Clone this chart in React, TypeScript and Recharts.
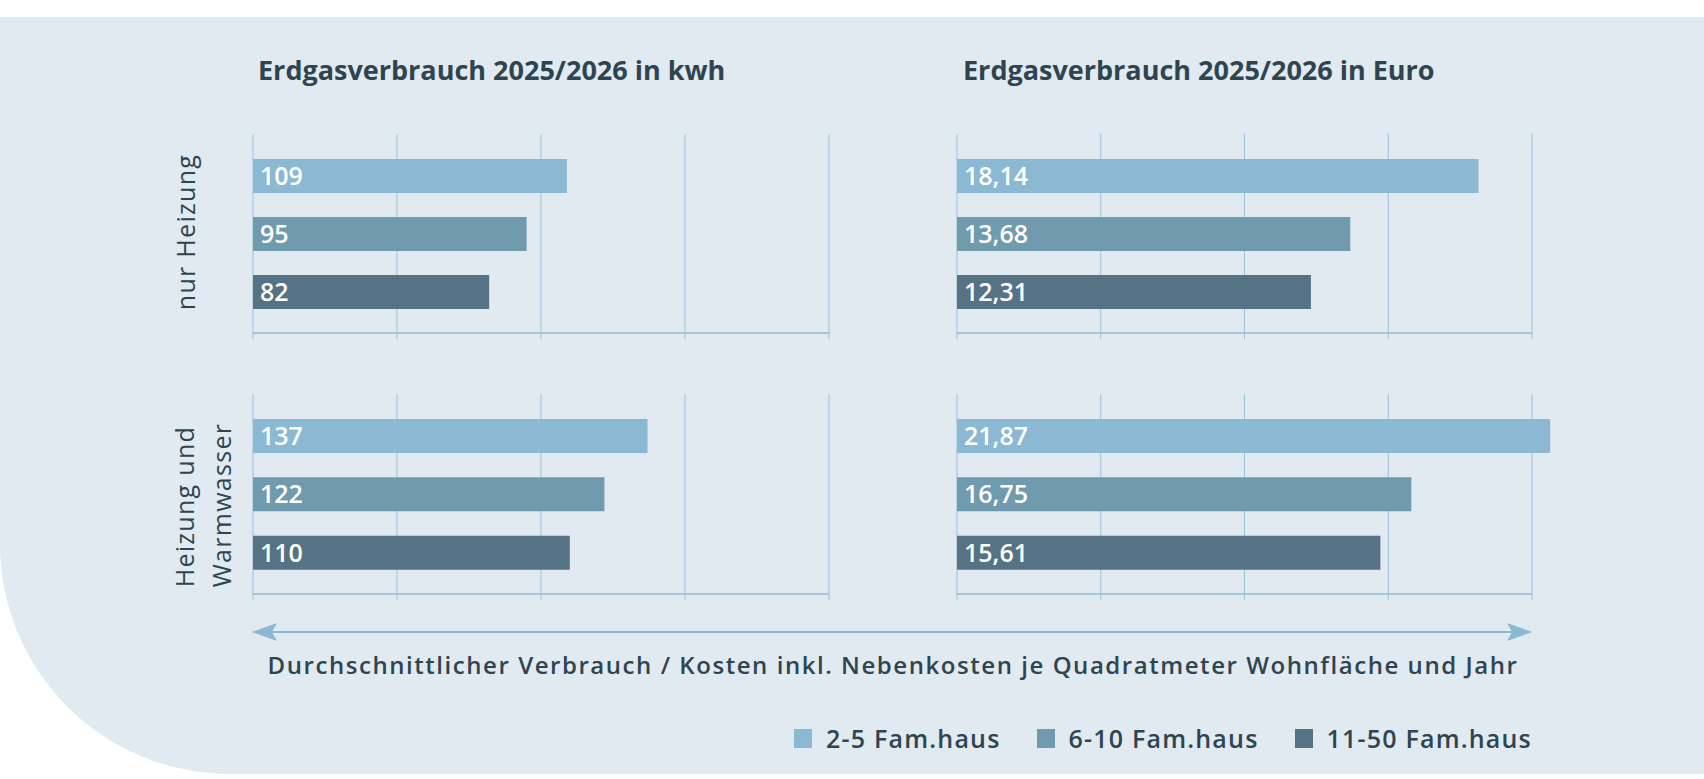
import { BarChart, Bar, Cell, XAxis, YAxis, CartesianGrid, LabelList } from "recharts";

// Haustypen und Farben
const houseTypes = ["2-5 Fam.haus", "6-10 Fam.haus", "11-50 Fam.haus"];
const houseColors = ["#8bb9d3", "#709aad", "#557384"];

// Werte je Quadratmeter Wohnfläche und Jahr
const kwhHeating = [109, 95, 82];
const kwhHeatingWater = [137, 122, 110];
const euroHeating = [18.14, 13.68, 12.31];
const euroHeatingWater = [21.87, 16.75, 15.61];

// Gitterlinien (ohne Beschriftung)
const kwhTicks = [0, 50, 100, 150, 200];
const euroTicksTop = [0, 5, 10, 15, 20];
const euroTicksBottom = [0, 5.3, 10.6, 15.9, 21.2];

const rowLabels = ["nur Heizung", "Heizung und\nWarmwasser"];
const titles = ["Erdgasverbrauch 2025/2026 in kwh", "Erdgasverbrauch 2025/2026 in Euro"];
const caption =
  "Durchschnittlicher Verbrauch / Kosten inkl. Nebenkosten je Quadratmeter Wohnfläche und Jahr";

const FONT = "'Open Sans', 'Noto Sans', sans-serif";
const TEXT = "#2e4551";
const GRID = "#98c2d6";
const AXIS = "#a3c8da";

const fmtInt = (v: number) => String(v);
const fmtEuro = (v: number) => v.toFixed(2).replace(".", ",");

// leere Tick-Beschriftung, damit Ticklinien und Gitter bleiben
const NoTick = () => <g />;

type PanelProps = {
  values: number[];
  ticks: number[];
  left: number;
  top: number;
  plotWidth: number;
  plotHeight: number;
  formatter: (v: number) => string;
  extraRight?: number;
  className?: string;
};

function Panel({
  values,
  ticks,
  left,
  top,
  plotWidth,
  plotHeight,
  formatter,
  extraRight = 2,
  className,
}: PanelProps) {
  const data = houseTypes.map((name, i) => ({ name, value: values[i] }));
  const max = ticks[ticks.length - 1];
  return (
    <div className={className} style={{ position: "absolute", left: left - 2, top }}>
      <BarChart
        width={plotWidth + 2 + extraRight}
        height={plotHeight + 6}
        data={data}
        layout="vertical"
        margin={{ top: 0, right: extraRight, bottom: 0, left: 2 }}
        barSize={34}
      >
        <CartesianGrid horizontal={false} stroke={GRID} />
        <XAxis
          type="number"
          domain={[0, max]}
          ticks={ticks}
          interval={0}
          allowDataOverflow
          tick={NoTick}
          tickSize={6}
          tickLine={{ stroke: GRID }}
          axisLine={{ stroke: AXIS, strokeWidth: 2 }}
          height={6}
        />
        <YAxis type="category" dataKey="name" hide padding={{ top: 13, bottom: 12 }} />
        <Bar dataKey="value" isAnimationActive={false}>
          {data.map((d, i) => (
            <Cell key={d.name} fill={houseColors[i]} />
          ))}
          <LabelList
            dataKey="value"
            position="insideLeft"
            offset={7}
            fill="#ffffff"
            fontSize={25}
            fontWeight={600}
            formatter={(v: any) => formatter(Number(v))}
          />
        </Bar>
      </BarChart>
    </div>
  );
}

export default function App() {
  return (
    <div
      style={{
        position: "absolute",
        left: 0,
        top: 0,
        width: 1704,
        height: 779,
        background: "#ffffff",
        fontFamily: FONT,
        color: TEXT,
        overflow: "hidden",
      }}
    >
      <style>{".no-clip g[clip-path] { clip-path: none !important; }"}</style>
      <div
        style={{
          position: "absolute",
          left: 0,
          top: 17,
          width: 1704,
          height: 757,
          background: "#e1eaf0",
          borderBottomLeftRadius: "230px 230px",
        }}
      />

      {/* Titel */}
      {titles.map((t, i) => (
        <div
          key={t}
          style={{
            position: "absolute",
            left: i === 0 ? 258 : 963,
            top: 52,
            fontSize: 27,
            fontWeight: 700,
            lineHeight: "36px",
            whiteSpace: "nowrap",
          }}
        >
          {t}
        </div>
      ))}

      {/* Zeilenbeschriftung */}
      {rowLabels.map((t, i) => (
        <div
          key={t}
          style={{
            position: "absolute",
            left: i === 0 ? 185 : 203,
            top: i === 0 ? 232 : 505,
            transform: "translate(-50%, -50%) rotate(-90deg)",
            fontSize: 25,
            lineHeight: "37px",
            letterSpacing: 1.3,
            whiteSpace: "pre",
            textAlign: "left",
          }}
        >
          {t}
        </div>
      ))}

      <Panel values={kwhHeating} ticks={kwhTicks} left={253} top={134} plotWidth={576} plotHeight={199} formatter={fmtInt} />
      <Panel values={kwhHeatingWater} ticks={kwhTicks} left={253} top={394} plotWidth={576} plotHeight={200} formatter={fmtInt} />
      <Panel values={euroHeating} ticks={euroTicksTop} left={957} top={134} plotWidth={575} plotHeight={199} formatter={fmtEuro} />
      <Panel
        values={euroHeatingWater}
        ticks={euroTicksBottom}
        left={957}
        top={394}
        plotWidth={575}
        plotHeight={200}
        formatter={fmtEuro}
        extraRight={24}
        className="no-clip"
      />

      {/* Doppelpfeil */}
      <svg style={{ position: "absolute", left: 0, top: 0 }} width={1704} height={779}>
        <line x1={262} y1={632} x2={1522} y2={632} stroke="#8bb9d3" strokeWidth={2} />
        <path d="M252 632 L277 623 L272 632 L277 641 Z" fill="#8bb9d3" />
        <path d="M1532 632 L1507 623 L1512 632 L1507 641 Z" fill="#8bb9d3" />
      </svg>

      {/* Achsentext */}
      <div
        style={{
          position: "absolute",
          left: 893,
          top: 648,
          transform: "translateX(-50%)",
          fontSize: 24,
          fontWeight: 600,
          lineHeight: "34px",
          letterSpacing: 1.55,
          whiteSpace: "nowrap",
        }}
      >
        {caption}
      </div>

      {/* Legende */}
      <div
        style={{
          position: "absolute",
          right: 172,
          top: 721,
          display: "flex",
          alignItems: "center",
          gap: 36,
        }}
      >
        {houseTypes.map((h, i) => (
          <div key={h} style={{ display: "flex", alignItems: "center" }}>
            <div style={{ width: 18, height: 19, background: houseColors[i], marginRight: 14 }} />
            <span style={{ fontSize: 25, fontWeight: 600, lineHeight: "34px", letterSpacing: 1.2, whiteSpace: "nowrap" }}>
              {h}
            </span>
          </div>
        ))}
      </div>
    </div>
  );
}
